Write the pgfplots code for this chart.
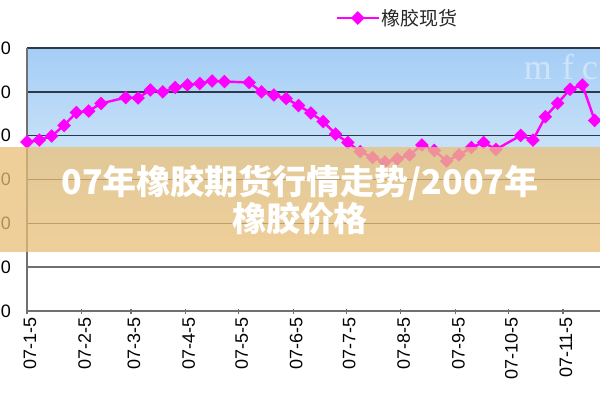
\documentclass[border=0pt]{standalone}
\usepackage{fontspec}
\setmainfont{Liberation Sans}
\newfontfamily\cjk{Noto Sans CJK SC}
\newfontfamily\wmfont{Liberation Serif}
\usepackage{pgfplots}
\pgfplotsset{compat=1.18}
\definecolor{bluetop}{HTML}{A4CDF6}
\definecolor{bluemid}{HTML}{C9E2F8}
\definecolor{banner}{HTML}{EAC078}
\definecolor{gridc}{HTML}{2C3A48}
\definecolor{axisc}{HTML}{707070}
\definecolor{mag}{HTML}{FF00FF}
\definecolor{wm}{HTML}{CFE4F8}
\begin{document}
\begin{tikzpicture}[x=1pt,y=1pt]
\fill[white] (0,0) rectangle (600,400);
\path[use as bounding box] (0,0) rectangle (600,400);
\shade[top color=bluetop, bottom color=bluemid] (27,250) rectangle (600,352);
\shade[top color=bluemid, bottom color=white] (27,150) rectangle (600,250);
\node[wm, font=\wmfont\fontsize{36}{36}\selectfont, anchor=base east, inner sep=0pt] at (598,320) {m\hspace{10pt}f\hspace{8pt}c};
\begin{axis}[
  at={(27pt,89pt)}, anchor=south west,
  scale only axis, width=573pt, height=263pt,
  xmin=0, xmax=325, ymin=0, ymax=24000,
  scaled y ticks=false,
  clip=false,
  axis x line*=bottom, axis y line*=left,
  axis line style={axisc, line width=2pt},
  ytick={8000,12000,16000,20000,24000},
  yticklabels={0,0,0,0,0},
  extra y ticks={0,4000},
  extra y tick labels={0,0},
  extra y tick style={grid style={axisc, line width=1.6pt}},
  ymajorgrids,
  grid style={gridc, line width=1.6pt},
  ytick style={draw=none},
  yticklabel style={font=\fontsize{18}{18}\selectfont, anchor=east, xshift=-10pt},
  xtick={0,31,59,90,120,151,181,212,243,273,304},
  xticklabels={07-1-5,07-2-5,07-3-5,07-4-5,07-5-5,07-6-5,07-7-5,07-8-5,07-9-5,07-10-5,07-11-5},
  xticklabel style={font=\fontsize{18}{18}\selectfont, rotate=90, anchor=east, yshift=-3pt},
  xtick style={axisc, line width=1.2pt},
  tick align=center, major tick length=5pt,
  legend style={at={(0.647,1.114)}, anchor=center, draw=none, fill=none,
    font=\cjk\fontsize{19}{19}\selectfont, text=black!85},
  legend image code/.code={\draw[#1, mark repeat=2, mark phase=2] plot coordinates {(0pt,0pt) (21pt,0pt) (42pt,0pt)};},
]
\addplot[mag, line width=2.4pt, mark=square*, mark options={rotate=45, mark size=3.6pt, solid, fill=mag}] table {
x y
0 15420
7 15600
14 15970
21 16930
28 18120
35 18250
42 18940
56 19480
63 19440
70 20170
77 19990
84 20400
91 20630
98 20760
105 20990
112 20940
126 20850
133 19990
140 19710
147 19390
154 18750
161 18070
168 17290
175 16150
182 15380
189 14540
196 14010
203 13600
210 13870
217 14240
224 15150
231 14650
238 13690
245 14240
252 14920
259 15380
266 14740
280 16020
287 15600
294 17730
301 18960
308 20230
315 20630
322 17390
};
\addlegendentry{橡胶现货}
\end{axis}
\fill[banner, opacity=0.75] (0,148) rectangle (600,253);
\node[white, font=\cjk\bfseries\fontsize{34}{34}\selectfont, align=center] at (300,200) {07年橡胶期货行情走势/2007年\\[1pt]橡胶价格};
\end{tikzpicture}
\end{document}
